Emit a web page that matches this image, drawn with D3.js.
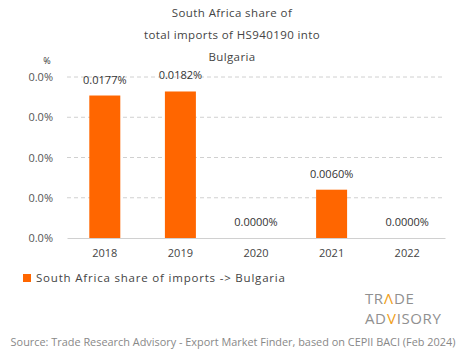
<!DOCTYPE html>
<html><head><meta charset="utf-8">
<script src="https://cdn.jsdelivr.net/npm/d3@7"></script>
<style>body{margin:0;background:#fff;} svg{display:block;} text{font-family:"Open Sans",sans-serif;}</style>
</head><body>
<svg id="c" width="465" height="359"></svg>
<script>
const years = ["2018","2019","2020","2021","2022"];
const shares = [0.0177, 0.0182, 0.0000, 0.0060, 0.0000];
const yTicks = [0, 0.005, 0.01, 0.015, 0.02];
const titleLines = ["South Africa share of","total imports of HS940190 into","Bulgaria"];
const legendLabel = "South Africa share of imports -> Bulgaria";
const sourceText = "Source: Trade Research Advisory - Export Market Finder, based on CEPII BACI (Feb 2024)";
const logoLines = [["TR","Λ","DE"],["AD","V","ISORY"]];

const svg = d3.select("#c");
const orange = "#ff6600";
const m = {l:67, r:445, t:77, b:238};
const x = d3.scaleBand().domain(years).range([m.l, m.r]).paddingInner(0.59).paddingOuter(0.295);
const y = d3.scaleLinear().domain([0, 0.02]).range([m.b, m.t]);

// title
svg.selectAll(".title").data(titleLines).enter().append("text")
  .attr("x", 232).attr("y", (d,i)=>17 + i*22)
  .attr("text-anchor","middle").attr("font-size",11.5).attr("letter-spacing",0.4).attr("fill","#444").text(d=>d);

// grid
svg.append("g").selectAll("line").data(yTicks.slice(1)).enter().append("line")
  .attr("x1", m.l).attr("x2", m.r).attr("y1", d=>y(d)).attr("y2", d=>y(d))
  .attr("stroke","#d0d0d0").attr("stroke-dasharray","4,3").attr("stroke-width",1);

// y axis labels
const yAxis = d3.axisLeft(y).tickValues(yTicks).tickFormat(d=>d3.format(".1f")(d)+"%").tickSize(0).tickPadding(14);
const gy = svg.append("g").attr("transform",`translate(${m.l},0)`).call(yAxis);
gy.select(".domain").remove();
gy.selectAll("text").attr("font-size",11).attr("fill","#555").attr("font-family","'Open Sans',sans-serif");
svg.append("text").attr("x",47).attr("y",64).attr("text-anchor","middle").attr("font-size",9).attr("fill","#333").text("%");

// bars
svg.append("g").selectAll("rect").data(years).enter().append("rect")
  .attr("x", d=>x(d)).attr("width", x.bandwidth())
  .attr("y", (d,i)=>y(shares[i])).attr("height", (d,i)=>m.b - y(shares[i]))
  .attr("fill", orange);

// value labels
svg.append("g").selectAll("text").data(years).enter().append("text")
  .attr("x", d=>x(d)+x.bandwidth()/2).attr("y", (d,i)=>y(shares[i]) - 12)
  .attr("text-anchor","middle").attr("font-size",11).attr("fill","#333")
  .text((d,i)=>d3.format(".4f")(shares[i])+"%");

// x axis
const xAxis = d3.axisBottom(x).tickSize(0).tickPadding(11);
const gx = svg.append("g").attr("transform",`translate(0,${m.b})`).call(xAxis);
gx.select(".domain").attr("stroke","#d0d0d0");
gx.selectAll("text").attr("font-size",11).attr("fill","#444").attr("font-family","'Open Sans',sans-serif");

// legend
svg.append("rect").attr("x",23).attr("y",274).attr("width",8).attr("height",8).attr("fill",orange);
svg.append("text").attr("x",36).attr("y",282).attr("font-size",11.5).attr("letter-spacing",0.8).attr("fill","#444").text(legendLabel);

// logo
const logoFont = "'Liberation Sans Narrow','DejaVu Sans Condensed',sans-serif";
const gold = "#f0a020";
logoLines.forEach((parts, li) => {
  let cx = 365;
  parts.forEach((p, pi) => {
    const t = svg.append("text").attr("x", cx).attr("y", li === 0 ? 304 : 324)
      .attr("font-size", 15).attr("letter-spacing", 0.6).attr("font-family", logoFont)
      .attr("fill", pi === 1 ? gold : "#909090").text(p);
    cx += t.node().getComputedTextLength() + 0.3;
  });
});

// source
svg.append("text").attr("x",233).attr("y",346).attr("text-anchor","middle").attr("font-size",10.9).attr("fill","#888").text(sourceText);
</script>
</body></html>
